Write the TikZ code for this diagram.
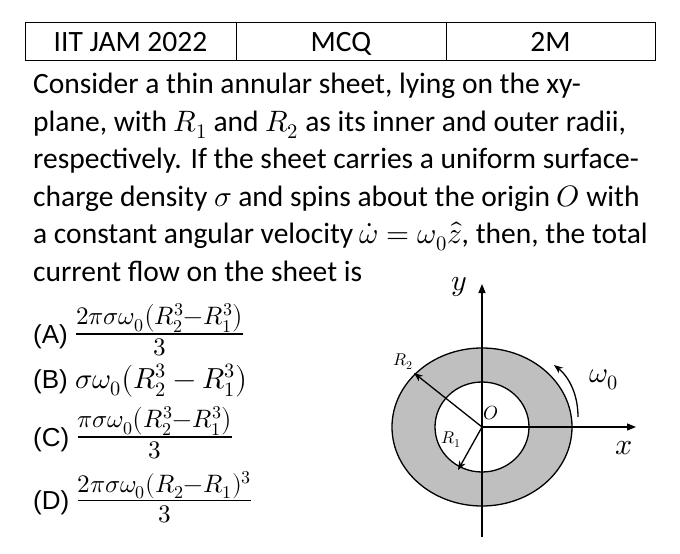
\documentclass[tikz,border=0pt]{standalone}
\usepackage{fontspec}
\usepackage{unicode-math}
\setmathfont{Latin Modern Math}
\setmainfont{Carlito}
\newfontfamily\arialf{Liberation Sans}
\usetikzlibrary{arrows.meta}
\tikzset{
  tl/.style={anchor=base west,inner sep=0pt,font=\fontsize{29.5}{32}\selectfont},
  opt/.style={anchor=west,inner sep=0pt,font=\fontsize{26}{30}\selectfont\arialf},
  hd/.style={anchor=base,inner sep=0pt,font=\fontsize{29.5}{32}\selectfont},
  ax/.style={line width=1.3pt,-{Triangle[length=9pt,width=7pt]}},
  rad/.style={line width=1.3pt,-{Stealth[length=9pt,width=7pt]}},
}
\newcommand{\bigfr}[2]{{\fontsize{36}{40}\selectfont$\frac{#1}{#2}$}}
\begin{document}
\begin{tikzpicture}[x=1pt,y=-1pt]
\useasboundingbox (0,0) rectangle (680,554);
% header table
\draw[line width=0.8pt] (25,22) rectangle (655,60);
\draw[line width=0.8pt] (236,22) -- (236,60) (446,22) -- (446,60);
\node[hd] (h1) at (130.5,51) {IIT JAM 2022};
\node[hd] (h2) at (341,51) {MCQ};
\node[hd] (h3) at (550.5,51) {2M};
% question text
\node[tl] (l1) at (33,93) {Consider a thin annular sheet, lying on the xy-};
\node[tl] (l2) at (33,131) {plane, with $R_1$ and $R_2$ as its inner and outer radii,};
\node[tl] (l3) at (33,168) {respectively. If the sheet carries a uniform surface-};
\node[tl] (l4) at (33,206) {charge density $\sigma$ and spins about the origin $O$ with};
\node[tl] (l5) at (33,243) {a constant angular velocity $\dot{\omega}=\omega_0\hat{z}$, then, the total};
\node[tl] (l6) at (33,281) {current flow on the sheet is};
% options
\node[opt] (oa) at (33,330) {(A) \bigfr{2\pi\sigma\omega_0\left(R_2^3-R_1^3\right)}{3}};
\node[opt] (ob) at (33,381) {(B) {\fontsize{29}{32}\selectfont$\sigma\omega_0\bigl(R_2^3-R_1^3\bigr)$}};
\node[opt] (oc) at (33,433) {(C) \bigfr{\pi\sigma\omega_0\left(R_2^3-R_1^3\right)}{3}};
\node[opt] (od) at (33,497) {(D) \bigfr{2\pi\sigma\omega_0(R_2-R_1)^3}{3}};
% figure
\coordinate (O) at (482,427);
\fill[gray!50,even odd rule] (O) ellipse [x radius=90,y radius=79] (O) ellipse [x radius=47,y radius=45];
\draw[line width=1.3pt] (O) ellipse [x radius=90,y radius=79];
\draw[line width=1.3pt] (O) ellipse [x radius=47,y radius=45];
\coordinate (yb) at (482,537);
\coordinate (yt) at (482,284);
\coordinate (xe) at (636,427);
\draw[ax] (yb) -- (yt);
\draw[ax] (O) -- (xe);
\node[font=\fontsize{30}{32}\selectfont] (ylab) at (459,287) {$y$};
\node[font=\fontsize{30}{32}\selectfont] (xlab) at (624,448) {$x$};
\coordinate (r2e) at (414,373);
\coordinate (r1e) at (458,470);
\draw[rad] (O) -- (r2e);
\draw[rad] (O) -- (r1e);
\node[font=\fontsize{17}{19}\selectfont] (r2l) at (403,362) {$R_2$};
\node[font=\fontsize{17}{19}\selectfont] (r1l) at (451,440) {$R_1$};
\node[font=\fontsize{19}{21}\selectfont] (ol) at (491,413) {$O$};
\coordinate (wa) at (578,417);
\coordinate (wb) at (554,365);
\draw[rad] (wa) .. controls (578,393) and (568,376) .. (wb);
\node[font=\fontsize{29}{32}\selectfont] (wl) at (604,380) {$\omega_0$};
\end{tikzpicture}
\end{document}
